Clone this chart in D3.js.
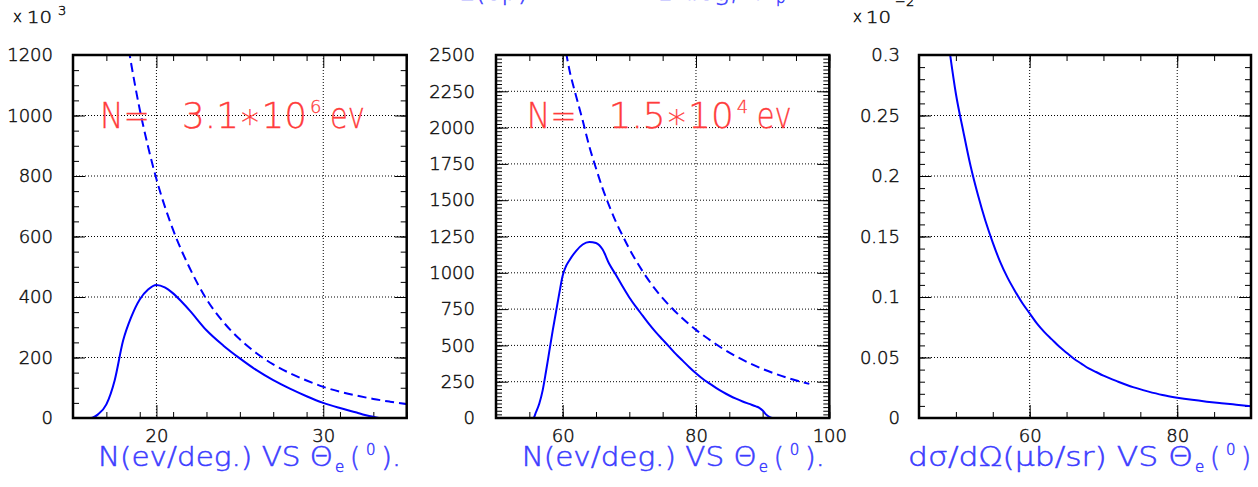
<!DOCTYPE html>
<html>
<head>
<meta charset="utf-8">
<script src="https://cdn.jsdelivr.net/npm/d3@7"></script>
<style>
  html, body { margin: 0; padding: 0; background: #fff; }
  svg { display: block; }
</style>
</head>
<body>
<svg id="chart" width="1258" height="487"></svg>
<script>
// ---- Panel 1: events per degree vs electron angle (x10^3) ----
const p1SolidTheta = [15, 16, 16.2, 16.5, 17, 17.5, 18, 18.5, 19, 19.5, 20, 20.5, 21, 21.5, 22, 23, 24, 25, 26, 27, 28, 29, 30, 31, 32, 32.5, 33, 33.5, 35];
const p1SolidN     = [0, 0, 2, 12, 45, 125, 255, 335, 392, 425, 440, 432, 412, 385, 355, 290, 240, 197, 158, 125, 97, 72, 50, 33, 18, 10, 4, 0, 0];
const p1DashTheta  = [18.2, 18.5, 19, 19.5, 20, 21, 22, 23, 24, 25, 26, 27, 28, 29, 30, 31, 32, 33, 34, 35];
const p1DashN      = [1265, 1167, 1020, 897, 790, 622, 495, 393, 318, 260, 214, 177, 148, 124, 103, 87, 74, 63, 54, 46];
const p1XTicks = [20, 30];
const p1YTicks = [0, 200, 400, 600, 800, 1000, 1200];

// ---- Panel 2: events per degree vs electron angle ----
const p2SolidTheta = [50, 55, 55.6, 56, 56.5, 57, 57.5, 58, 58.5, 59, 59.5, 60, 60.5, 61, 62, 63, 64, 65, 65.5, 66, 67, 68, 69, 70, 71, 72, 73, 74, 75, 76, 77, 78, 79, 80, 81, 82, 83, 84, 85, 86, 87, 88, 89, 89.5, 90, 90.5, 91, 91.5, 97];
const p2SolidN     = [0, 0, 0, 40, 100, 190, 320, 460, 600, 730, 860, 980, 1045, 1085, 1150, 1195, 1212, 1205, 1190, 1160, 1060, 985, 905, 830, 765, 705, 645, 590, 540, 490, 440, 395, 350, 308, 270, 238, 208, 180, 155, 133, 114, 97, 80, 70, 52, 25, 8, 0, 0];
const p2DashTheta  = [60.5, 61, 62, 63, 64, 65, 66, 67, 68, 69, 70, 72, 74, 76, 78, 80, 82, 84, 86, 88, 90, 92, 94, 96, 97];
const p2DashN      = [2520, 2400, 2220, 2050, 1870, 1720, 1580, 1460, 1350, 1255, 1165, 1010, 880, 775, 685, 607, 540, 478, 425, 378, 338, 303, 272, 246, 235];
const p2XTicks = [60, 80, 100];
const p2YTicks = [0, 250, 500, 750, 1000, 1250, 1500, 1750, 2000, 2250, 2500];

// ---- Panel 3: cross section vs electron angle (x10^-2) ----
const p3Theta = [49, 50, 51, 52, 53, 54, 55, 56, 57, 58, 59, 60, 61, 62, 63, 64, 65, 66, 67, 68, 69, 70, 72, 74, 76, 78, 80, 82, 84, 86, 88, 90];
const p3Sigma = [0.31, 0.268, 0.237, 0.208, 0.184, 0.163, 0.145, 0.129, 0.116, 0.105, 0.095, 0.0865, 0.078, 0.071, 0.065, 0.059, 0.054, 0.049, 0.045, 0.041, 0.038, 0.035, 0.030, 0.0255, 0.022, 0.019, 0.0168, 0.0150, 0.0135, 0.0122, 0.011, 0.0098];
const p3XTicks = [60, 80];
const p3YTicks = [0, 0.05, 0.1, 0.15, 0.2, 0.25, 0.3];
const p3YLabels = ["0", "0.05", "0.1", "0.15", "0.2", "0.25", "0.3"];

const TOP = 55, BOTTOM = 418;
const LINE_BLUE = "#0000ff";
const TEXT_BLUE = "#3c3cff";
const TEXT_RED = "#ff3c3c";
const TEXT_DARK = "#111";
const FONT = '"DejaVu Sans", "Liberation Sans", sans-serif';
const svg = d3.select("#chart");
svg.append("rect").attr("width", 1258).attr("height", 487).attr("fill", "#fff");

// thin stroked lettering
function letter(sel, size, color, outline) {
  return sel.style("font-family", FONT).style("font-size", size + "px").style("font-weight", 200)
    .attr("fill", color).attr("stroke", color).attr("stroke-width", outline);
}

function drawPanel(cfg, idx) {
  const x = d3.scaleLinear().domain(cfg.xDomain).range([cfg.left, cfg.right]);
  const y = d3.scaleLinear().domain(cfg.yDomain).range([BOTTOM, TOP]);
  const g = svg.append("g");

  // dotted grid at the major ticks
  const grid = g.append("g").attr("stroke", "#000").attr("stroke-width", 1).attr("stroke-dasharray", "1,2");
  grid.selectAll(".gx").data(cfg.xMajor.filter(v => v > cfg.xDomain[0] && v < cfg.xDomain[1])).join("line")
    .attr("x1", d => x(d)).attr("x2", d => x(d)).attr("y1", TOP).attr("y2", BOTTOM);
  grid.selectAll(".gy").data(cfg.yMajor.filter(v => v > cfg.yDomain[0] && v < cfg.yDomain[1])).join("line")
    .attr("y1", d => y(d)).attr("y2", d => y(d)).attr("x1", cfg.left).attr("x2", cfg.right);

  const minorX = d3.range(cfg.xDomain[0], cfg.xDomain[1] + 1e-9, cfg.xMinor);
  const minorY = d3.range(cfg.yDomain[0], cfg.yDomain[1] + 1e-9, cfg.yMinor);

  function addAxis(axis, tx, ty, labelled) {
    const a = g.append("g").attr("transform", `translate(${tx},${ty})`).call(axis);
    a.select(".domain").remove();
    a.selectAll(".tick line").attr("stroke", "#000").attr("stroke-width", 1);
    if (labelled) letter(a.selectAll("text"), 18, TEXT_DARK, 0.45);
    else a.selectAll("text").remove();
    return a;
  }
  // minor ticks on all four sides, pointing inward
  addAxis(d3.axisBottom(x).tickValues(minorX).tickSizeInner(-6).tickSizeOuter(0), 0, BOTTOM, false);
  addAxis(d3.axisTop(x).tickValues(minorX).tickSizeInner(-6).tickSizeOuter(0), 0, TOP, false);
  addAxis(d3.axisLeft(y).tickValues(minorY).tickSizeInner(-6).tickSizeOuter(0), cfg.left, 0, false);
  addAxis(d3.axisRight(y).tickValues(minorY).tickSizeInner(-6).tickSizeOuter(0), cfg.right, 0, false);
  // major ticks, labelled on the bottom and left
  addAxis(d3.axisBottom(x).tickValues(cfg.xMajor).tickSizeInner(-13).tickSizeOuter(0).tickPadding(11).tickFormat(d3.format("d")), 0, BOTTOM, true);
  addAxis(d3.axisTop(x).tickValues(cfg.xMajor).tickSizeInner(-13).tickSizeOuter(0), 0, TOP, false);
  addAxis(d3.axisLeft(y).tickValues(cfg.yMajor).tickSizeInner(-12).tickSizeOuter(0).tickPadding(cfg.yPad).tickFormat(cfg.yFormat), cfg.left, 0, true);
  addAxis(d3.axisRight(y).tickValues(cfg.yMajor).tickSizeInner(-12).tickSizeOuter(0), cfg.right, 0, false);

  // curves, clipped to the frame
  const clipId = "clip" + idx;
  svg.append("clipPath").attr("id", clipId).append("rect")
    .attr("x", cfg.left).attr("y", TOP).attr("width", cfg.right - cfg.left).attr("height", BOTTOM - TOP);
  const line = d3.line().x(d => x(d[0])).y(d => y(d[1])).curve(d3.curveMonotoneX);
  const curves = g.append("g").attr("clip-path", `url(#${clipId})`);
  cfg.series.forEach(s => {
    curves.append("path").datum(d3.zip(s.xs, s.ys))
      .attr("d", line).attr("fill", "none").attr("stroke", LINE_BLUE).attr("stroke-width", 2)
      .attr("stroke-dasharray", s.dashed ? "9,5" : null);
  });

  // frame
  g.append("rect").attr("x", cfg.left).attr("y", TOP).attr("width", cfg.right - cfg.left).attr("height", BOTTOM - TOP)
    .attr("fill", "none").attr("stroke", "#000").attr("stroke-width", 2.5);
}

drawPanel({
  left: 73, right: 406.7, xDomain: [15, 35], yDomain: [0, 1200],
  xMajor: p1XTicks, xMinor: 2, yMajor: p1YTicks, yMinor: 50, yPad: 20, yFormat: d3.format("d"),
  series: [{ xs: p1SolidTheta, ys: p1SolidN }, { xs: p1DashTheta, ys: p1DashN, dashed: true }]
}, 1);
drawPanel({
  left: 496, right: 829.3, xDomain: [50, 100], yDomain: [0, 2500],
  xMajor: p2XTicks, xMinor: 5, yMajor: p2YTicks, yMinor: 25, yPad: 21, yFormat: d3.format("d"),
  series: [{ xs: p2SolidTheta, ys: p2SolidN }, { xs: p2DashTheta, ys: p2DashN, dashed: true }]
}, 2);
drawPanel({
  left: 919, right: 1251, xDomain: [45, 90], yDomain: [0, 0.3],
  xMajor: p3XTicks, xMinor: 5, yMajor: p3YTicks, yMinor: 0.01, yPad: 19, yFormat: (d, i) => p3YLabels[i],
  series: [{ xs: p3Theta, ys: p3Sigma }]
}, 3);

// text helper: a list of pieces, each with its own position and size
function pieces(list, color, outline) {
  list.forEach(p => {
    const t = letter(svg.append("text"), p.size, color, outline)
      .attr("x", p.x).attr("y", p.y).attr("text-anchor", p.anchor || "start").text(p.text);
    if (p.len) t.attr("textLength", p.len).attr("lengthAdjust", "spacingAndGlyphs");
  });
}

// axis titles
[98, 521.7].forEach(x0 => {
  pieces([
    { text: "N(ev/deg.) VS Θ", x: x0, y: 466, size: 26, len: 235 },
    { text: "e", x: x0 + 237, y: 472, size: 15 },
    { text: "(", x: x0 + 252, y: 466, size: 26 },
    { text: "0", x: x0 + 268, y: 455, size: 15 },
    { text: ").", x: x0 + 283, y: 466, size: 26, len: 20 }
  ], TEXT_BLUE, 0.5);
});
pieces([
  { text: "dσ/dΩ(μb/sr) VS Θ", x: 908, y: 466, size: 26, len: 285 },
  { text: "e", x: 1195, y: 472, size: 15 },
  { text: "(", x: 1210, y: 466, size: 26 },
  { text: "0", x: 1226, y: 455, size: 15 },
  { text: ")", x: 1241, y: 466, size: 26 }
], TEXT_BLUE, 0.5);

// event totals
[[0, "3.1", "6"], [426.7, "1.5", "4"]].forEach(([dx, mant, ex]) => {
  pieces([
    { text: "N=", x: 100 + dx, y: 128, size: 35, len: 50 },
    { text: mant + "∗10", x: 182 + dx, y: 128, size: 35, len: 125 },
    { text: ex, x: 310 + dx, y: 113, size: 18 },
    { text: "ev", x: 330 + dx, y: 128, size: 35, len: 35 }
  ], TEXT_RED, 0.3);
});

// scale multipliers
pieces([
  { text: "x", x: 13, y: 22, size: 15 },
  { text: "10", x: 27, y: 23, size: 16, len: 25 },
  { text: "3", x: 58, y: 15, size: 13 },
  { text: "x", x: 853, y: 22, size: 15 },
  { text: "10", x: 866, y: 23, size: 16, len: 25 },
  { text: "−2", x: 895, y: 6, size: 13 }
], TEXT_DARK, 0.45);

// page title (runs above the top edge)
pieces([
  { text: "E(ep)", x: 528, y: 0, size: 26, anchor: "end" },
  { text: "1 deg,", x: 738, y: 0, size: 26, anchor: "end" },
  { text: "θ", x: 750, y: 0, size: 26 },
  { text: "p", x: 776, y: 3, size: 15 }
], TEXT_BLUE, 0.5);
</script>
</body>
</html>
